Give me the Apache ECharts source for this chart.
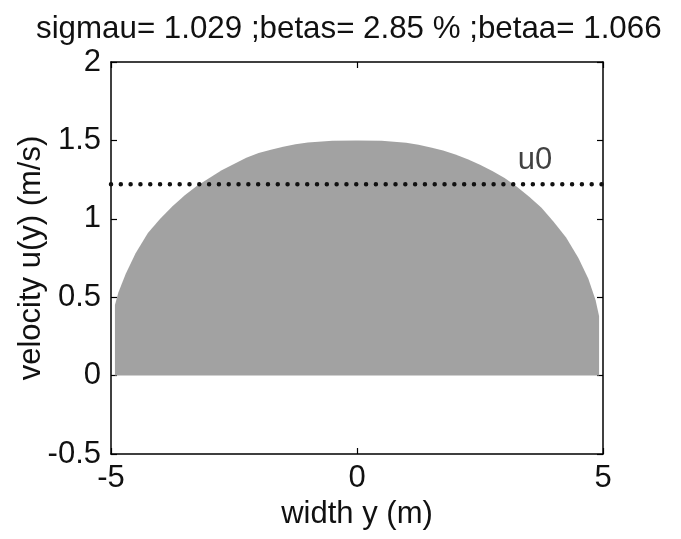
<!DOCTYPE html>
<html><head><meta charset="utf-8">
<script src="https://cdn.jsdelivr.net/npm/echarts@6/dist/echarts.min.js"></script>
<style>html,body{margin:0;padding:0;background:#fff}#c{width:681px;height:539px}</style>
</head><body><div id="c"></div>
<script>
// profile width positions (m) and velocities (m/s)
const widthY = [-4.92,-4.92,-4.85,-4.7,-4.5,-4.25,-4,-3.75,-3.5,-3.25,-3,-2.75,-2.5,-2.25,-2,-1.75,-1.5,-1.25,-1,-0.5,0,0.5,1,1.25,1.5,1.75,2,2.25,2.5,2.75,3,3.25,3.5,3.75,4,4.25,4.5,4.7,4.85,4.92,4.92];
const velocityU = [0,0.45,0.53,0.65,0.78,0.91,1.0,1.08,1.15,1.21,1.26,1.31,1.35,1.39,1.42,1.44,1.46,1.475,1.487,1.497,1.5,1.497,1.485,1.472,1.455,1.435,1.41,1.38,1.345,1.305,1.26,1.205,1.14,1.07,0.98,0.88,0.75,0.62,0.48,0.38,0];
const u0Range = [-5, 5];
const u0Value = 1.22;
const u0LabelPos = [3.62, 1.37];
const titleText = 'sigmau= 1.029 ;betas= 2.85 % ;betaa= 1.066';
const xTicks = {min: -5, max: 5, interval: 5};
const yTicks = {min: -0.5, max: 2, interval: 0.5};

const FONT = 'Liberation Sans, Arial, sans-serif';
const FS = 31;
const chart = echarts.init(document.getElementById('c'), null, {renderer: 'canvas'});
const axisCommon = {
  axisLine: {show: true, onZero: false, lineStyle: {color: '#000', width: 1.5}},
  axisTick: {show: true, inside: true, length: 6, lineStyle: {color: '#000', width: 1.2}},
  splitLine: {show: false}
};
chart.setOption({
  animation: false,
  backgroundColor: '#fff',
  title: {text: titleText, left: 31, top: 9,
    textStyle: {fontFamily: FONT, fontSize: 31.3, fontWeight: 'normal', color: '#111'}},
  grid: {left: 111, right: 78, top: 62, bottom: 85, show: false},
  xAxis: [
    Object.assign({type: 'value', position: 'bottom', min: xTicks.min, max: xTicks.max, interval: xTicks.interval,
      name: 'width y (m)', nameLocation: 'middle', nameGap: 45, nameMoveOverlap: false,
      nameTextStyle: {fontFamily: FONT, fontSize: FS, color: '#111'},
      axisLabel: {fontFamily: FONT, fontSize: FS, color: '#111', margin: 9}}, axisCommon),
    Object.assign({type: 'value', position: 'top', min: xTicks.min, max: xTicks.max, interval: xTicks.interval,
      axisLabel: {show: false}}, axisCommon)
  ],
  yAxis: [
    Object.assign({type: 'value', position: 'left', min: yTicks.min, max: yTicks.max, interval: yTicks.interval,
      name: 'velocity u(y) (m/s)', nameLocation: 'middle', nameGap: 64, nameMoveOverlap: false,
      nameTextStyle: {fontFamily: FONT, fontSize: FS, color: '#111'},
      axisLabel: {fontFamily: FONT, fontSize: FS, color: '#111', margin: 10}}, axisCommon),
    Object.assign({type: 'value', position: 'right', min: yTicks.min, max: yTicks.max, interval: yTicks.interval,
      axisLabel: {show: false}}, axisCommon)
  ],
  series: [
    {type: 'line', data: widthY.map((x, i) => [x, velocityU[i]]), symbol: 'none',
      lineStyle: {width: 0}, areaStyle: {color: '#a2a2a2', opacity: 1, origin: 0}, z: 1},
    {type: 'line', data: u0Range.map(x => [x, u0Value]), symbol: 'none',
      lineStyle: {color: '#111', width: 4.5, type: [0.01, 9.8], cap: 'round'}, z: 3},
    {type: 'scatter', data: [u0LabelPos], symbolSize: 0,
      label: {show: true, position: 'inside', formatter: 'u0', fontFamily: FONT, fontSize: FS, color: '#111'}, z: 4}
  ]
});
</script></body></html>
